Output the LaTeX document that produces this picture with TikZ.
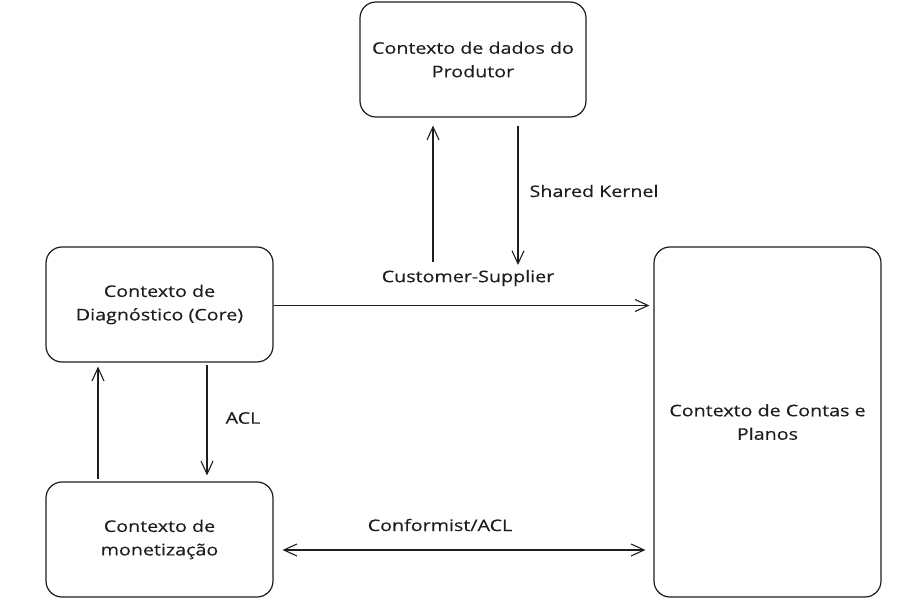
\documentclass[tikz,border=0pt]{standalone}
\usepackage{fontspec}
\setmainfont[FakeStretch=1.23,FakeBold=0.4]{Open Sans}
\usetikzlibrary{arrows.meta}
\definecolor{ink}{HTML}{1E1E1E}
\tikzset{
  box/.style={draw=ink, line width=1.2pt, rounded corners=16pt, inner sep=0pt,
    text=ink, align=center, font=\fontsize{16}{23.5}\selectfont},
  lbl/.style={text=ink, inner sep=0pt, font=\fontsize{16}{23.5}\selectfont},
  arr/.style={draw=ink, line width=1.2pt, -{Straight Barb[length=13pt,width=12pt,line width=1.1pt]}},
  biarr/.style={draw=ink, line width=1.2pt, {Straight Barb[length=13pt,width=12pt,line width=1.1pt]}-{Straight Barb[length=13pt,width=12pt,line width=1.1pt]}}
}
\begin{document}
\begin{tikzpicture}[x=1pt,y=-1pt]
\useasboundingbox (0,0) rectangle (900,604);
\node[box, minimum width=226pt, minimum height=115pt] (top) at (473,59.5) {Contexto de dados do\\Produtor};
\node[box, minimum width=227pt, minimum height=115pt] (diag) at (159.5,304.5) {Contexto de\\Diagnóstico (Core)};
\node[box, minimum width=227pt, minimum height=115pt] (mon) at (159.5,539.5) {Contexto de\\monetização};
\node[box, minimum width=227pt, minimum height=350pt] (contas) at (767.5,422) {Contexto de Contas e\\Planos};

\coordinate (csup) at (433,262);
\coordinate (skdown) at (518,265);
\draw[arr, shorten >=8pt] (csup) -- (csup |- top.south);
\draw[arr, shorten <=8pt] (skdown |- top.south) -- (skdown);

\node[lbl] (cslbl) at (468,278) {Customer-Supplier};
\node[lbl] (sklbl) at (594,191) {Shared Kernel};

\draw[arr, shorten >=4pt] ([yshift=-1pt]diag.east) -- ([yshift=-1pt]diag.east -| contas.west);

\draw[arr, shorten <=2pt, shorten >=6pt] ([xshift=47.5pt]diag.south) -- ([xshift=47.5pt]mon.north);
\draw[arr, shorten >=4pt, shorten <=2pt] ([xshift=-61.5pt]mon.north) -- ([xshift=-61.5pt]diag.south);
\node[lbl] (acllbl) at (243,418) {ACL};

\draw[biarr, shorten <=9pt, shorten >=8pt] ([yshift=-10.5pt]mon.east) -- ([yshift=-10.5pt]mon.east -| contas.west);
\node[lbl] (conflbl) at (440,525) {Conformist/ACL};
\end{tikzpicture}
\end{document}
